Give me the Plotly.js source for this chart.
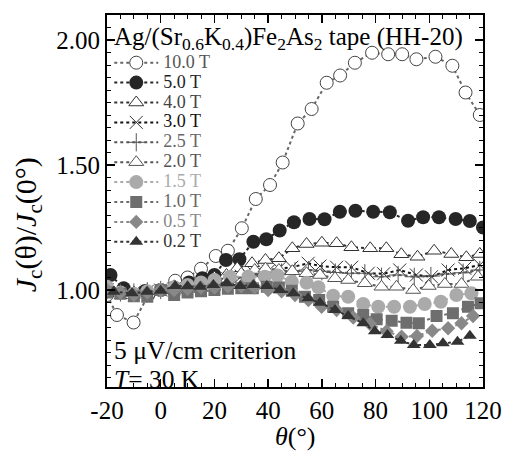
<!DOCTYPE html>
<html><head><meta charset="utf-8">
<script src="https://cdn.plot.ly/plotly-3.0.1.min.js"></script>
<style>html,body{margin:0;padding:0;background:#fff}</style>
</head><body><div id="chart" style="width:506px;height:453px"></div>
<script>
// ---- data ----
const seriesNames = ["10.0 T","5.0 T","4.0 T","3.0 T","2.5 T","2.0 T","1.5 T","1.0 T","0.5 T","0.2 T"];

const th10 = [-20,-16.3,-10.1,-4.6,0,5.4,10,15,20.5,25,30.2,35.4,40.7,45.4,51,56.2,61.8,66.8,72.3,78.7,84.7,89.9,95.2,102.3,108.6,113.5,118.8];
const v10  = [0.98,0.90,0.87,0.98,1.0,1.037,1.05,1.085,1.136,1.157,1.247,1.364,1.42,1.51,1.666,1.724,1.829,1.858,1.909,1.949,1.943,1.943,1.923,1.933,1.897,1.79,1.70];

const th5 = [-18.7,-13.8,-5.8,0,5,10.5,15.5,20,24.3,29.3,34.5,39.3,44.3,49.6,55.4,61,66.7,72.5,79.1,85.3,92.1,97.7,103.6,109.8,115.1,120];
const v5  = [1.06,1.007,0.996,1.0,1.01,1.03,1.047,1.06,1.12,1.123,1.193,1.203,1.238,1.271,1.284,1.283,1.313,1.317,1.313,1.311,1.277,1.291,1.291,1.284,1.276,1.25];

const th4 = [-20,-15,-10,-5,0,5,10,15,20,24.5,28.5,34,39,44,49,54.3,60,65.5,71,78,84,89.6,95.6,101.8,108.2,113.8,118.8];
const v4  = [1.0,0.99,0.99,0.995,1.0,1.01,1.02,1.03,1.05,1.06,1.087,1.107,1.12,1.127,1.167,1.184,1.189,1.187,1.171,1.167,1.167,1.143,1.133,1.157,1.144,1.131,1.144];

const th3 = [-20,-15,-10,-5,0,5,10,15,20,25,30,35,40,44,48.8,54.9,59.3,65.5,71.1,77.3,83,89,95.2,100.8,107,113.2,118.8];
const v3  = [1.0,0.99,0.99,0.995,1.0,1.005,1.015,1.025,1.035,1.045,1.055,1.065,1.075,1.085,1.091,1.107,1.096,1.091,1.091,1.067,1.065,1.08,1.06,1.053,1.08,1.087,1.10];

const th25 = [-20,-15,-10,-5,0,5,10,15,20,25,30,35,40,45,50,55,60,65,71,76,82.2,88.4,94.4,100.6,106.4,112.6,118.8];
const v25  = [1.0,0.99,0.99,0.995,1.0,1.005,1.01,1.02,1.03,1.04,1.05,1.06,1.065,1.07,1.075,1.08,1.075,1.07,1.067,1.067,1.053,1.06,1.053,1.056,1.064,1.069,1.08];

const th2 = [-20,-15,-10,-5,0,5,10,15,20,25,30,35,39,44,49,54.3,59.3,64.9,69.8,76,82.2,87.8,94,99.8,105.8,112,118.1];
const v2  = [1.0,0.99,0.99,0.995,1.0,1.0,1.01,1.02,1.03,1.045,1.065,1.08,1.085,1.08,1.075,1.067,1.06,1.047,1.04,1.027,1.013,1.013,1.0,1.016,1.024,1.024,1.053];

const th15 = [-20,-15,-10,-5,0,5,10,15,20,25.8,32.6,38.8,43.5,48.8,54.3,58.7,64.2,69.8,75.4,81,86.9,92.8,98.3,104.3,110.1,115.7];
const v15  = [1.013,0.99,0.985,0.995,1.0,1.01,1.02,1.03,1.04,1.053,1.053,1.053,1.058,1.033,1.029,1.011,0.977,0.973,0.944,0.933,0.933,0.933,0.944,0.953,0.98,0.987];

const th1 = [-20,-15,-10,-5,0,5,10,15,20,25,30,34.3,39.5,44,48.8,53.7,59,64.2,69.8,75.4,80.4,86,91.5,96.1,102.7,108.8,114.4,119.1];
const v1  = [0.99,0.985,0.975,0.973,1.0,0.98,0.99,0.995,1.0,1.005,1.007,1.007,1.013,1.01,0.997,0.973,0.96,0.933,0.907,0.90,0.883,0.877,0.869,0.867,0.896,0.907,0.933,0.947];

const th05 = [-20,-15,-10,-5,0,5,10,15,20,25,30,35,40,45,50,55,59.9,65.5,71.7,77.9,84.1,89.7,95.4,101.1,107,112,116.3];
const v05  = [1.0,0.99,0.98,0.99,1.0,1.0,1.005,1.01,1.01,1.015,1.015,1.01,1.0,0.995,0.98,0.96,0.933,0.92,0.89,0.865,0.835,0.813,0.816,0.837,0.847,0.867,0.896];

const th02 = [-17.5,-10.7,-5.1,0,5.4,10,14.7,19.6,24.6,29.6,34.5,39.5,44.4,49.4,54.9,59.3,64.9,69.8,75.4,79.7,84.4,89.4,94.2,100.2,105.1,110.5,115.1];
const v02  = [0.993,0.987,0.993,0.997,1.016,1.015,1.013,1.02,1.027,1.016,1.02,1.016,1.0,0.987,0.967,0.949,0.92,0.896,0.867,0.835,0.82,0.797,0.78,0.78,0.787,0.793,0.817];

const xTicks = [-20,0,20,40,60,80,100,120];
const yTickVals = [1.0,1.5,2.0];
const yTickText = ["1.00","1.50","2.00"];

// ---- styles ----
const SERIF = "Liberation Serif, Times New Roman, serif";
const styles = [
  {x:th10, y:v10, sym:"circle", size:13, mc:"#444", lc:"#666", fill:"#fff", tc:"#555"},
  {x:th5, y:v5, sym:"circle", size:14, mc:"#262626", lc:"#262626", tc:"#222"},
  {x:th4, y:v4, sym:"triangle-up", size:13, mc:"#333", lc:"#333", fill:"#fff", tc:"#444"},
  {x:th3, y:v3, sym:"x-thin-open", size:13, mc:"#333", lc:"#111", tc:"#111"},
  {x:th25, y:v25, sym:"cross-thin-open", size:13, mc:"#555", lc:"#555", tc:"#666"},
  {x:th2, y:v2, sym:"triangle-up", size:13, mc:"#555", lc:"#555", fill:"#fff", tc:"#555"},
  {x:th15, y:v15, sym:"circle", size:14, mc:"#aaa", lc:"#aaa", tc:"#aaa"},
  {x:th1, y:v1, sym:"square", size:12, mc:"#6e6e6e", lc:"#6e6e6e", tc:"#666"},
  {x:th05, y:v05, sym:"diamond", size:11, mc:"#888", lc:"#888", tc:"#888"},
  {x:th02, y:v02, sym:"triangle-up", size:12, mc:"#333", lc:"#333", tc:"#333"}
];

const traces = styles.map((s,i) => {
  const marker = {symbol:s.sym, size:s.size, color:s.mc};
  if (s.fill) { marker.color = s.fill; marker.line = {color:s.mc, width:1}; }
  else if (s.sym.indexOf("open") >= 0) { marker.line = {color:s.mc, width:1}; }
  else { marker.line = {width:0}; }
  return {
    type:"scatter", mode:"lines+markers", x:s.x, y:s.y,
    name:'<span style="color:' + s.tc + ';font-size:18px">' + seriesNames[i] + '</span>',
    line:{color:s.lc, width:2, dash:"dot"}, marker:marker
  };
});

const axisCommon = {
  showline:true, linecolor:"#000", linewidth:2, mirror:"ticks",
  ticks:"inside", ticklen:8, tickwidth:1.5, tickcolor:"#000",
  showgrid:false, zeroline:false,
  tickfont:{family:SERIF, size:25, color:"#000"}
};

const layout = {
  width:506, height:453,
  margin:{l:107, r:23, t:15, b:66},
  paper_bgcolor:"#fff", plot_bgcolor:"#fff",
  showlegend:true,
  legend:{x:0.006, y:0.912, xanchor:"left", yanchor:"top", bgcolor:"rgba(0,0,0,0)",
          font:{family:SERIF, size:13, color:"#000"}, itemwidth:44, tracegroupgap:0},
  xaxis:Object.assign({}, axisCommon, {
    range:[-20,120], tickmode:"array", tickvals:xTicks, ticktext:xTicks.map(String),
    minor:{dtick:5, tick0:0, ticks:"inside", ticklen:4, tickwidth:1, tickcolor:"#000"}
  }),
  yaxis:Object.assign({}, axisCommon, {
    range:[0.612,2.10], tickmode:"array", tickvals:yTickVals, ticktext:yTickText,
    minor:{dtick:0.05, tick0:0, ticks:"inside", ticklen:4, tickwidth:1, tickcolor:"#000"}
  }),
  annotations:[
    {xref:"paper", yref:"paper", x:0.012, y:0.937, xanchor:"left", yanchor:"middle", showarrow:false,
     text:"Ag/(Sr<sub>0.6</sub>K<sub>0.4</sub>)Fe<sub>2</sub>As<sub>2</sub> tape (HH-20)",
     font:{family:SERIF, size:25, color:"#000"}},
    {xref:"paper", yref:"paper", x:0.012, y:0.097, xanchor:"left", yanchor:"middle", showarrow:false,
     text:"5 μV/cm criterion", font:{family:SERIF, size:25.5, color:"#000"}},
    {xref:"paper", yref:"paper", x:0.012, y:0.021, xanchor:"left", yanchor:"middle", showarrow:false,
     text:"<i>T</i>= 30 K", font:{family:SERIF, size:25.5, color:"#000"}},
    {xref:"paper", yref:"paper", x:0.5, y:-0.134, xanchor:"center", yanchor:"middle", showarrow:false,
     text:"<i>θ</i>(°)", font:{family:SERIF, size:26, color:"#000"}},
    {xref:"paper", yref:"paper", x:-0.21, y:0.435, xanchor:"center", yanchor:"middle", showarrow:false,
     textangle:-90, text:"<i>J</i><sub>c</sub>(θ)/<i>J</i><sub>c</sub>(0°)", font:{family:SERIF, size:30, color:"#000"}}
  ]
};

Plotly.newPlot("chart", traces, layout, {staticPlot:true, displayModeBar:false});
</script></body></html>
